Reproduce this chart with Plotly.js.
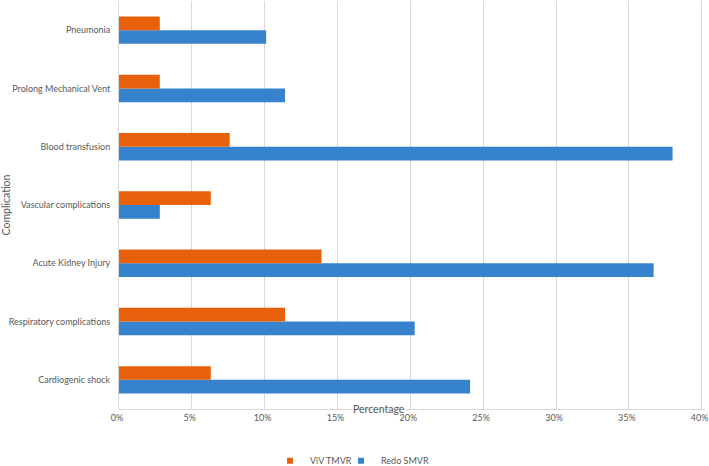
<!DOCTYPE html>
<html>
<head>
<meta charset="utf-8">
<script src="https://cdn.plot.ly/plotly-3.0.1.min.js"></script>
<style>html,body{margin:0;padding:0;background:#fff;}#chart{width:709px;height:466px;}</style>
</head>
<body>
<div id="chart"></div>
<script>
const categories = ["Cardiogenic shock", "Respiratory complications", "Acute Kidney Injury", "Vascular complications", "Blood transfusion", "Prolong Mechanical Vent", "Pneumonia"];
const vivTMVR = [6.3, 11.4, 13.9, 6.3, 7.6, 2.8, 2.8];
const redoSMVR = [24.1, 20.3, 36.7, 2.8, 38.0, 11.4, 10.1];
const xTickVals = [0, 5, 10, 15, 20, 25, 30, 35, 40];
const xTickText = ["0%", "5%", "10%", "15%", "20%", "25%", "30%", "35%", "40%"];
const seriesNames = ["ViV TMVR", "Redo SMVR"];
const seriesColors = ["#E8600A", "#3782CC"];

const font = {family: "Lato, Open Sans, sans-serif", size: 9, color: "#595959"};
const L = 119, R = 4, PW = 709 - L - R;
const px = (p) => (p - L) / PW;

const traces = [
  {type: "bar", orientation: "h", name: seriesNames[1], y: categories, x: redoSMVR,
   marker: {color: seriesColors[1]}, showlegend: false},
  {type: "bar", orientation: "h", name: seriesNames[0], y: categories, x: vivTMVR,
   marker: {color: seriesColors[0]}, showlegend: false},
  {type: "scatter", mode: "markers", name: seriesNames[0], x: [null], y: [null],
   marker: {symbol: "square", size: 6, color: seriesColors[0]}, showlegend: true, legend: "legend"},
  {type: "scatter", mode: "markers", name: seriesNames[1], x: [null], y: [null],
   marker: {symbol: "square", size: 6, color: seriesColors[1]}, showlegend: true, legend: "legend2"}
];

const legBase = {orientation: "h", y: -0.127, yanchor: "middle", xanchor: "left",
                 font: font, itemwidth: 30, bgcolor: "rgba(0,0,0,0)"};

const layout = {
  width: 709, height: 466,
  margin: {l: L, r: R, t: 1, b: 57, autoexpand: false},
  paper_bgcolor: "#fff", plot_bgcolor: "#fff",
  barmode: "group", bargap: 0.53, bargroupgap: 0,
  font: font,
  showlegend: true,
  legend: Object.assign({}, legBase, {x: px(270)}),
  legend2: Object.assign({}, legBase, {x: px(341)}),
  xaxis: {range: [0, 40 * PW / 582.7], tickvals: xTickVals, ticktext: xTickText,
          showgrid: true, gridcolor: "#d9d9d9", gridwidth: 1,
          zeroline: false, showline: true, linecolor: "#d9d9d9",
          ticks: "", tickfont: font, fixedrange: true, automargin: false,
          ticklabeloverflow: "allow", ticklabelshift: -2},
  yaxis: {type: "category", categoryorder: "array", categoryarray: categories,
          showgrid: false, zeroline: false, showline: true, linecolor: "#d9d9d9", ticks: "",
          tickfont: font, ticklabelstandoff: 6, automargin: false,
          title: {text: "Complication", font: {family: font.family, size: 10.5, color: "#595959"}, standoff: 6}},
  annotations: [
    {text: "Percentage", xref: "paper", yref: "paper", x: px(379), y: 0.0,
     xanchor: "center", yanchor: "middle", showarrow: false,
     font: {family: font.family, size: 10.5, color: "#595959"}}
  ]
};

Plotly.newPlot("chart", traces, layout, {displayModeBar: false, staticPlot: true});
</script>
</body>
</html>
